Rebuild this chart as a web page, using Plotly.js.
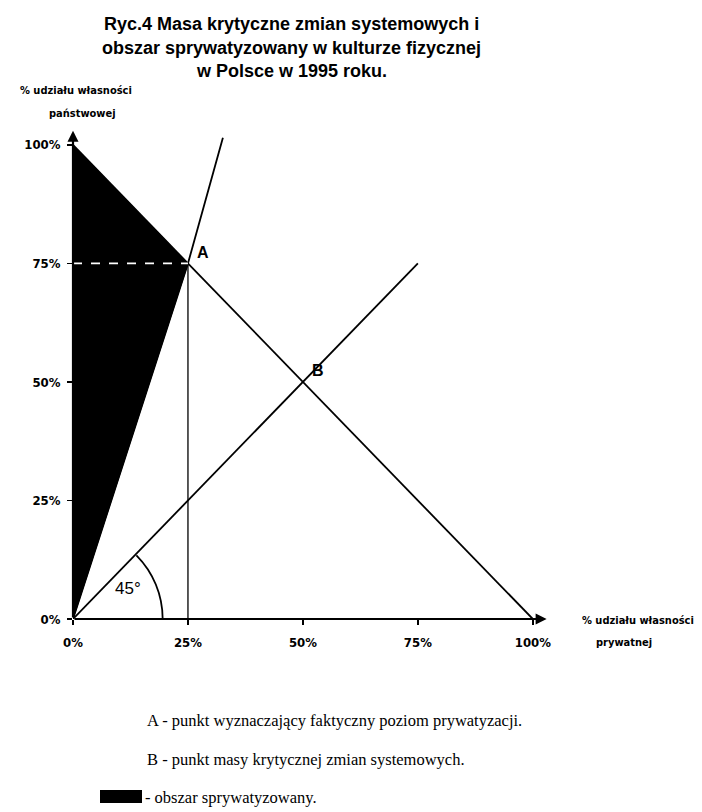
<!DOCTYPE html>
<html>
<head>
<meta charset="utf-8">
<script src="https://cdn.plot.ly/plotly-3.0.1.min.js"></script>
<style>html,body{margin:0;padding:0;background:#fff;}#chart{width:702px;height:812px;}</style>
</head>
<body>
<div id="chart"></div>
<script>
// ---- data ----
const tickVals = [0, 25, 50, 75, 100];
const tickText = ['0%', '25%', '50%', '75%', '100%'];
// privatized area (triangle between y-axis, state line and line OA)
const areaX = [0, 25, 0];
const areaY = [100, 75, 0];
// line of state vs private share (x + y = 100)
const shareLineX = [0, 100];
const shareLineY = [100, 0];
// 45 degree line
const diagX = [0, 75];
const diagY = [0, 75];
// steep line through A
const steepX = [0, 25, 32.6];
const steepY = [0, 75, 101.5];
// vertical drop from A
const dropX = [25, 25];
const dropY = [0, 75];
// dashed guide from A to y-axis
const guideX = [0, 25];
const guideY = [75, 75];
// named points
const pointNames = ['A', 'B'];
const pointX = [25, 50];
const pointY = [75, 50];
// axis extents (arrow tips)
const axisEndX = 103;
const axisEndY = 103;
// angle arc
const arcAngleLabel = '45°';
const arcRadiusX = 19.5;
const arcRadiusY = 19;

const titleLines = [
  'Ryc.4 Masa krytyczne zmian systemowych i',
  'obszar sprywatyzowany w kulturze fizycznej',
  'w Polsce w 1995 roku.'
];
const yTitleLines = ['% udziału własności', 'państwowej'];
const xTitleLines = ['% udziału własności', 'prywatnej'];
const legendLines = [
  'A - punkt wyznaczający faktyczny poziom prywatyzacji.',
  'B - punkt masy krytycznej zmian systemowych.',
  '- obszar sprywatyzowany.'
];

// ---- styling ----
const narrow = 'Liberation Sans Narrow, DejaVu Sans Condensed, Arial Narrow, sans-serif';
const sans = 'Liberation Sans, Arial, sans-serif';
const serif = 'Liberation Serif, DejaVu Serif, serif';
const black = '#000000';

const ML = 73, MR = 114, MT = 88, MB = 193;
const plotW = 702 - ML - MR;
const plotH = 812 - MT - MB;
const px2paperX = px => (px - ML) / plotW;
const px2paperY = py => (812 - MB - py) / plotH;

const traces = [
  {x: areaX, y: areaY, mode: 'lines', fill: 'toself', fillcolor: black,
   line: {color: black, width: 1}, hoverinfo: 'skip'},
  {x: shareLineX, y: shareLineY, mode: 'lines', line: {color: black, width: 1.8}},
  {x: diagX, y: diagY, mode: 'lines', line: {color: black, width: 1.8}},
  {x: steepX, y: steepY, mode: 'lines', line: {color: black, width: 1.8}},
  {x: dropX, y: dropY, mode: 'lines', line: {color: black, width: 1.3}},
  {x: guideX, y: guideY, mode: 'lines', line: {color: '#ffffff', width: 1.6, dash: 'dash'}}
];

// arc as cubic bezier approximating 45 degrees
const k = 4 / 3 * Math.tan(Math.PI / 16);
const c45 = Math.SQRT1_2;
const arcPath = 'M ' + arcRadiusX + ',0 C ' + arcRadiusX + ',' + (k * arcRadiusY) + ' ' +
  (arcRadiusX * (c45 + k * c45)) + ',' + (arcRadiusY * (c45 - k * c45)) + ' ' +
  (arcRadiusX * c45) + ',' + (arcRadiusY * c45);

const annotations = [];
// title lines
const titleY = [24, 48, 71];
titleLines.forEach((t, i) => annotations.push({
  xref: 'paper', yref: 'paper', x: px2paperX(291), y: px2paperY(titleY[i]),
  xanchor: 'center', yanchor: 'middle', showarrow: false, text: '<b>' + t + '</b>',
  font: {family: sans, size: 18, color: black}
}));
// point labels
pointNames.forEach((n, i) => annotations.push({
  xref: 'x', yref: 'y', x: pointX[i], y: pointY[i], xshift: 15, yshift: 11,
  showarrow: false, text: '<b>' + n + '</b>',
  font: {family: sans, size: 16, color: black}
}));
// angle label
annotations.push({xref: 'x', yref: 'y', x: 12, y: 6.5, showarrow: false, text: arcAngleLabel,
  font: {family: sans, size: 17, color: black}});
// y axis title
const yTitlePos = [[76, 90], [82, 113]];
yTitleLines.forEach((t, i) => annotations.push({
  xref: 'paper', yref: 'paper', x: px2paperX(yTitlePos[i][0]), y: px2paperY(yTitlePos[i][1]),
  xanchor: 'center', yanchor: 'middle', showarrow: false, text: t,
  font: {family: narrow, size: 11, color: black, weight: 'bold'}
}));
// x axis title
const xTitlePos = [[638, 620], [624, 642]];
xTitleLines.forEach((t, i) => annotations.push({
  xref: 'paper', yref: 'paper', x: px2paperX(xTitlePos[i][0]), y: px2paperY(xTitlePos[i][1]),
  xanchor: 'center', yanchor: 'middle', showarrow: false, text: t,
  font: {family: narrow, size: 11, color: black, weight: 'bold'}
}));
// legend text
const legendPos = [[145, 720], [145, 760], [143, 797]];
legendLines.forEach((t, i) => annotations.push({
  xref: 'paper', yref: 'paper', x: px2paperX(legendPos[i][0]), y: px2paperY(legendPos[i][1]),
  xanchor: 'left', yanchor: 'middle', showarrow: false, text: t,
  font: {family: serif, size: 16.5, color: black}
}));
// axis arrows
annotations.push({x: axisEndX, y: 0, ax: 0, ay: 0, xref: 'x', yref: 'y', axref: 'x', ayref: 'y',
  text: '', showarrow: true, arrowhead: 2, arrowsize: 1, arrowwidth: 2.2, arrowcolor: black});
annotations.push({x: 0, y: axisEndY, ax: 0, ay: 0, xref: 'x', yref: 'y', axref: 'x', ayref: 'y',
  text: '', showarrow: true, arrowhead: 2, arrowsize: 1, arrowwidth: 2.2, arrowcolor: black});

const layout = {
  width: 702, height: 812,
  margin: {l: ML, r: MR, t: MT, b: MB},
  paper_bgcolor: '#ffffff', plot_bgcolor: '#ffffff',
  showlegend: false,
  xaxis: {range: [0, 112], tickvals: tickVals, ticktext: tickText, ticks: 'outside', ticklen: 5,
    tickwidth: 1.5, tickcolor: black, showgrid: false, zeroline: false, showline: false,
    ticklabelstandoff: 6, tickfont: {family: narrow, size: 13, color: black, weight: 'bold'}},
  yaxis: {range: [0, 112], tickvals: tickVals, ticktext: tickText, ticks: 'outside', ticklen: 5,
    tickwidth: 1.5, tickcolor: black, showgrid: false, zeroline: false, showline: false,
    ticklabelstandoff: 4, tickfont: {family: narrow, size: 13, color: black, weight: 'bold'}},
  shapes: [
    {type: 'path', xref: 'x', yref: 'y', path: arcPath, line: {color: black, width: 1.8}},
    {type: 'rect', xref: 'paper', yref: 'paper',
     x0: px2paperX(100), x1: px2paperX(142), y0: px2paperY(803), y1: px2paperY(790),
     fillcolor: black, line: {width: 0}}
  ],
  annotations: annotations
};

Plotly.newPlot('chart', traces, layout, {displayModeBar: false, staticPlot: true});
</script>
</body>
</html>
